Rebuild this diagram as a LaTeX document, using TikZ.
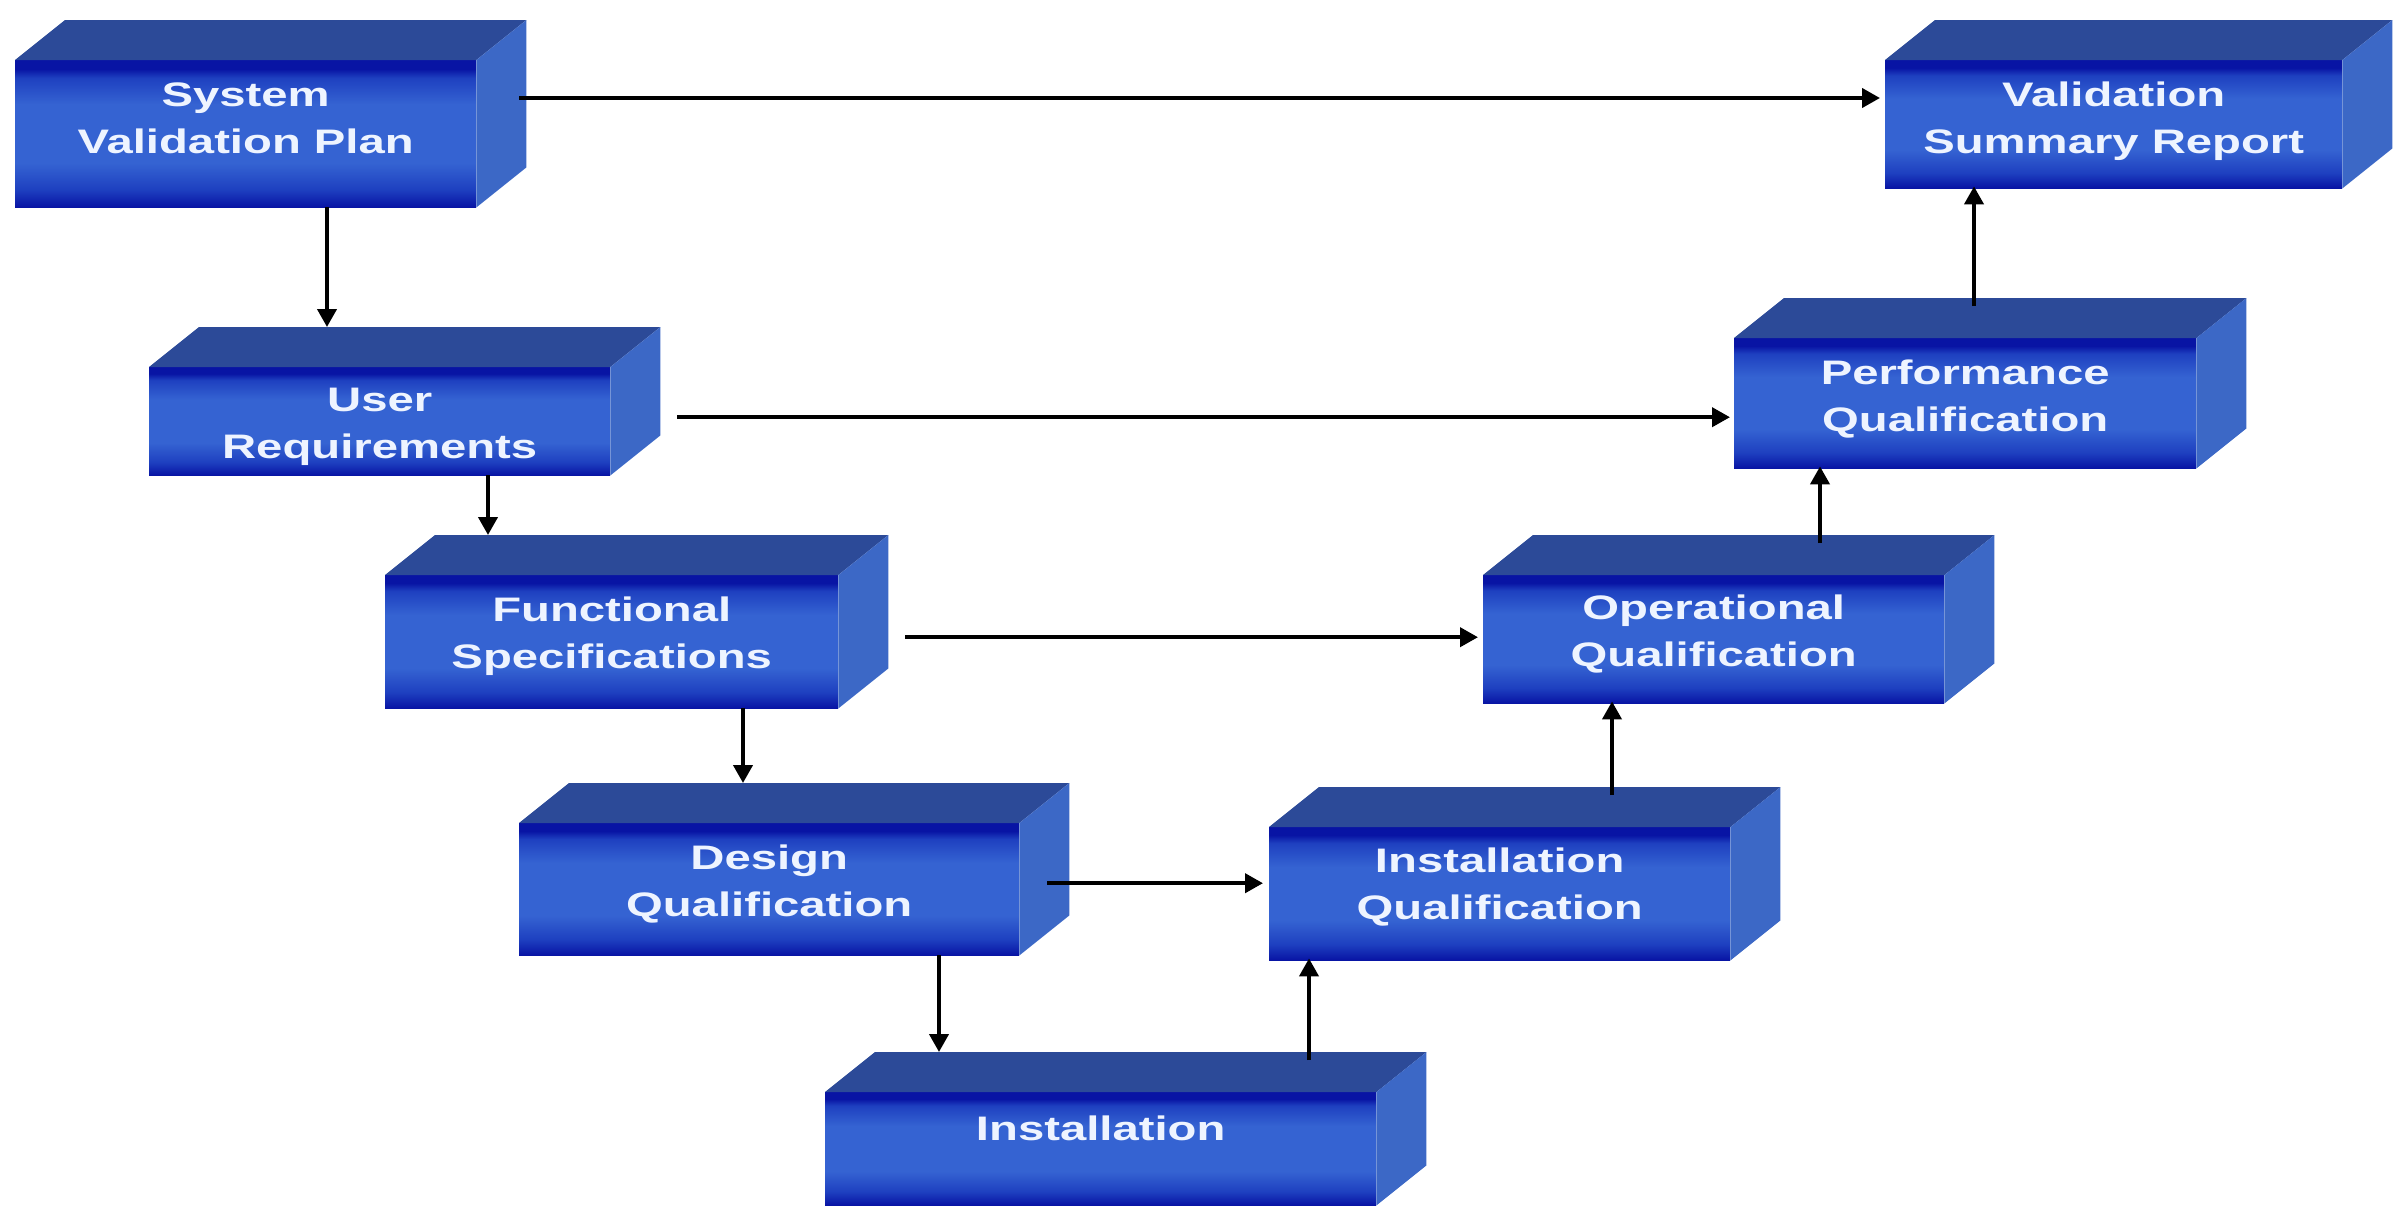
\documentclass[tikz,border=0pt]{standalone}
\usepackage{fontspec}
\newfontfamily\boxfont{Liberation Sans}[FakeStretch=1.39]
\usetikzlibrary{arrows.meta,calc}
\definecolor{topface}{HTML}{2C4A98}
\definecolor{sideface}{HTML}{3C68C6}
\definecolor{fdark}{HTML}{0814A4}
\definecolor{fmid}{HTML}{1E40C0}
\definecolor{flight}{HTML}{3563D2}
\definecolor{txt}{HTML}{EEF4FF}
\pgfdeclareverticalshading{frontshade}{100bp}{color(0bp)=(fdark); color(25bp)=(fdark); color(31bp)=(fmid); color(40bp)=(flight); color(60bp)=(flight); color(69bp)=(fmid); color(72bp)=(fdark); color(75bp)=(fdark); color(100bp)=(fdark)}
\tikzset{
  front/.style={rectangle, anchor=north west, inner sep=0pt, shade, shading=frontshade},
  lbl/.style={text=txt, font=\boxfont\bfseries\fontsize{34}{47}\selectfont, align=center, inner sep=0pt},
  arr/.style={line width=4pt, -{Triangle[length=18pt,width=19pt]}},
}
\begin{document}
\begin{tikzpicture}[x=1pt,y=-1pt]
\fill[white] (0,0) rectangle (2395,1210);
\useasboundingbox (0,0) rectangle (2395,1210);

% front faces
\node[front, minimum width=461pt, minimum height=147pt] (svp)  at (15,60) {};
\node[front, minimum width=457pt, minimum height=128pt] (vsr)  at (1885,60) {};
\node[front, minimum width=461pt, minimum height=108pt] (ur)   at (149,367) {};
\node[front, minimum width=453pt, minimum height=133pt] (fs)   at (385,575) {};
\node[front, minimum width=500pt, minimum height=132pt] (dq)   at (519,823) {};
\node[front, minimum width=551pt, minimum height=113pt] (inst) at (825,1092) {};
\node[front, minimum width=461pt, minimum height=133pt] (iq)   at (1269,827) {};
\node[front, minimum width=461pt, minimum height=128pt] (oq)   at (1483,575) {};
\node[front, minimum width=462pt, minimum height=130pt] (pq)   at (1734,338) {};

% top and side faces
\foreach \n in {svp,vsr,ur,fs,dq,inst,iq,oq,pq}{
  \fill[topface] (\n.north west) -- ++(50,-40) -- ([shift={(50,-40)}]\n.north east) -- (\n.north east) -- cycle;
  \fill[sideface] (\n.north east) -- ++(50,-40) -- ([shift={(50,-40)}]\n.south east) -- (\n.south east) -- cycle;
}

% labels
\node[lbl] (svp-t)  at ([yshift=15pt]svp.center)  {System\\Validation Plan};
\node[lbl] (vsr-t)  at ([yshift=3pt]vsr.center)   {Validation\\Summary Report};
\node[lbl] (ur-t)   at ([yshift=-6pt]ur.center)   {User\\Requirements};
\node[lbl] (fs-t)   at ([yshift=6pt]fs.center)    {Functional\\Specifications};
\node[lbl] (dq-t)   at ([yshift=5pt]dq.center)    {Design\\Qualification};
\node[lbl] (inst-t) at ([yshift=20pt]inst.center) {Installation};
\node[lbl] (iq-t)   at ([yshift=7pt]iq.center)    {Installation\\Qualification};
\node[lbl] (oq-t)   at ([yshift=5pt]oq.center)    {Operational\\Qualification};
\node[lbl] (pq-t)   at ([yshift=4pt]pq.center)    {Performance\\Qualification};

% downward connectors
\draw[arr] ([xshift=312pt]svp.south west) -- ([xshift=178pt,yshift=40pt]ur.north west);
\draw[arr] ([xshift=339pt]ur.south west)  -- ([xshift=103pt,yshift=40pt]fs.north west);
\draw[arr] ([xshift=358pt]fs.south west)  -- ([xshift=224pt,yshift=40pt]dq.north west);
\draw[arr] ([xshift=420pt]dq.south west)  -- ([xshift=114pt,yshift=40pt]inst.north west);
% upward connectors
\draw[arr] ([xshift=484pt,yshift=32pt]inst.north west) -- ([xshift=40pt,yshift=2pt]iq.south west);
\draw[arr] ([xshift=343pt,yshift=32pt]iq.north west)   -- ([xshift=129pt,yshift=2pt]oq.south west);
\draw[arr] ([xshift=337pt,yshift=32pt]oq.north west)   -- ([xshift=86pt,yshift=2pt]pq.south west);
\draw[arr] ([xshift=240pt,yshift=32pt]pq.north west)   -- ([xshift=89pt,yshift=2pt]vsr.south west);
% horizontal connectors
\draw[arr] ([xshift=43pt,yshift=-38pt]svp.north east) -- ([xshift=-5pt,yshift=-38pt]vsr.north west);
\draw[arr] ([xshift=67pt,yshift=4pt]ur.east)  -- ([xshift=-4pt,yshift=-14pt]pq.west);
\draw[arr] ([xshift=67pt,yshift=4.5pt]fs.east) -- ([xshift=-5pt,yshift=2pt]oq.west);
\draw[arr] ([xshift=28pt,yshift=6pt]dq.east)  -- ([xshift=-6pt,yshift=10.5pt]iq.west);
\end{tikzpicture}
\end{document}
